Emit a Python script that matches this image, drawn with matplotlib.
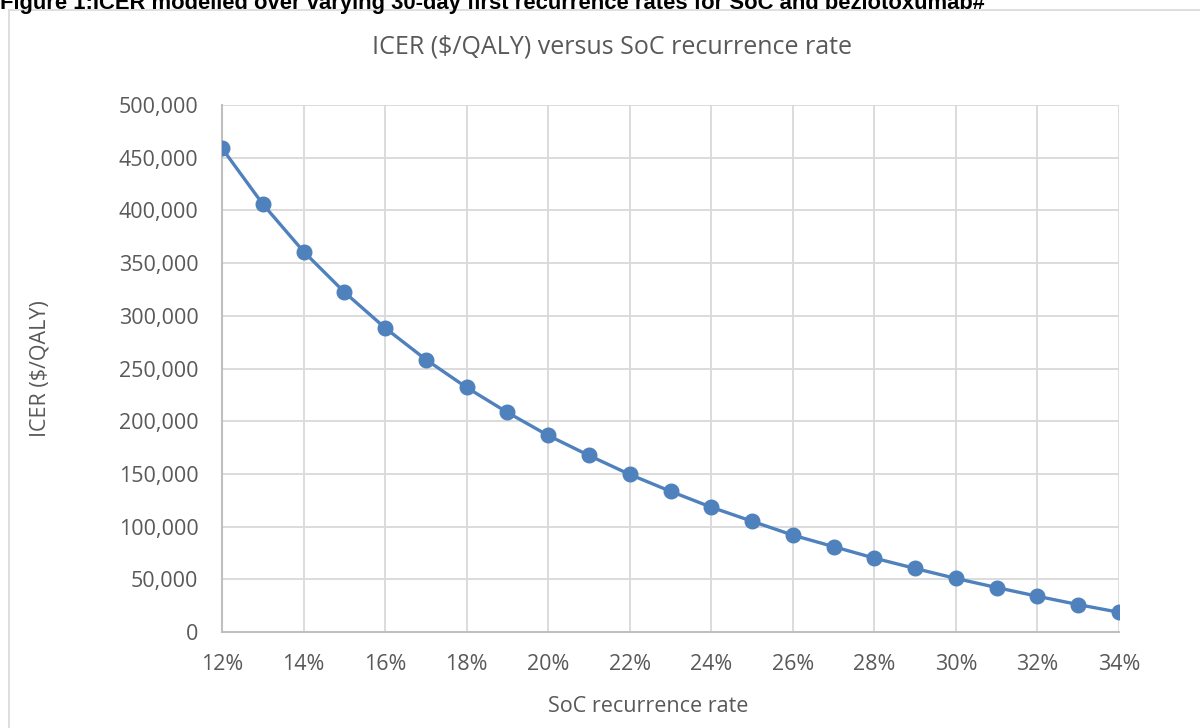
import numpy as np
import matplotlib.pyplot as plt
from matplotlib.patches import Rectangle
from matplotlib.ticker import FuncFormatter, MultipleLocator

# SoC recurrence rate (%) and ICER ($/QALY)
rates = [12, 13, 14, 15, 16, 17, 18, 19, 20, 21, 22, 23,
         24, 25, 26, 27, 28, 29, 30, 31, 32, 33, 34]
icer = [459000, 406000, 361000, 322500, 288500, 258500, 232000, 208300,
        186500, 167500, 149500, 133500, 118400, 105100, 91900, 81000,
        70100, 60300, 50800, 42200, 33900, 26000, 18700]

caption = "Figure 1:ICER modelled over varying 30-day first recurrence rates for SoC and bezlotoxumab#"
title = "ICER ($/QALY) versus SoC recurrence rate"
xlabel = "SoC recurrence rate"
ylabel = "ICER ($/QALY)"

blue = "#4F81BD"
grid = "#D9D9D9"
txt = "#595959"
font = "Open Sans"

fig = plt.figure(figsize=(12, 7.28), dpi=100)
W, H = 1200, 728

# chart frame
fig.patches.append(Rectangle((9 / W, -0.01), 1.0, 1 - 10 / H + 0.01,
                             transform=fig.transFigure, fill=False,
                             edgecolor=grid, linewidth=1.2))

# clipped caption at the very top
fig.text(0.0, 1 - 9 / H, caption, ha="left", va="baseline",
         fontsize=15.8, fontweight="bold", family="Liberation Sans", color="black")

ax = fig.add_axes([222 / W, 1 - 632 / H, (1119 - 222) / W, (632 - 105) / H])
ax.plot(rates, icer, color=blue, linewidth=2.4, marker="o", markersize=10.5,
        markerfacecolor=blue, markeredgecolor=blue, zorder=3)

ax.set_xlim(12, 34)
ax.set_ylim(0, 500000)
ax.xaxis.set_major_locator(MultipleLocator(2))
ax.yaxis.set_major_locator(MultipleLocator(50000))
ax.xaxis.set_major_formatter(FuncFormatter(lambda v, p: f"{v:.0f}%"))
ax.yaxis.set_major_formatter(FuncFormatter(lambda v, p: f"{v:,.0f}"))

ax.grid(True, color=grid, linewidth=1.3)
ax.set_axisbelow(True)
for s in ["top", "right"]:
    ax.spines[s].set_visible(False)
for s in ["left", "bottom"]:
    ax.spines[s].set_color("#BFBFBF")
    ax.spines[s].set_linewidth(1.5)
ax.tick_params(length=0, labelsize=15.5, labelcolor=txt)
ax.tick_params(axis="y", pad=17)
ax.tick_params(axis="x", pad=16)
for lab in ax.get_xticklabels() + ax.get_yticklabels():
    lab.set_family(font)

fig.text(612 / W, 1 - 47 / H, title, ha="center", va="center",
         fontsize=18, color=txt, family=font)
fig.text(648 / W, 1 - 707 / H, xlabel, ha="center", va="center",
         fontsize=15.5, color=txt, family=font)
fig.text(40 / W, 1 - 369 / H, ylabel, ha="center", va="center", rotation=90,
         fontsize=15.5, color=txt, family=font)

fig.savefig("out.png", dpi=100)
